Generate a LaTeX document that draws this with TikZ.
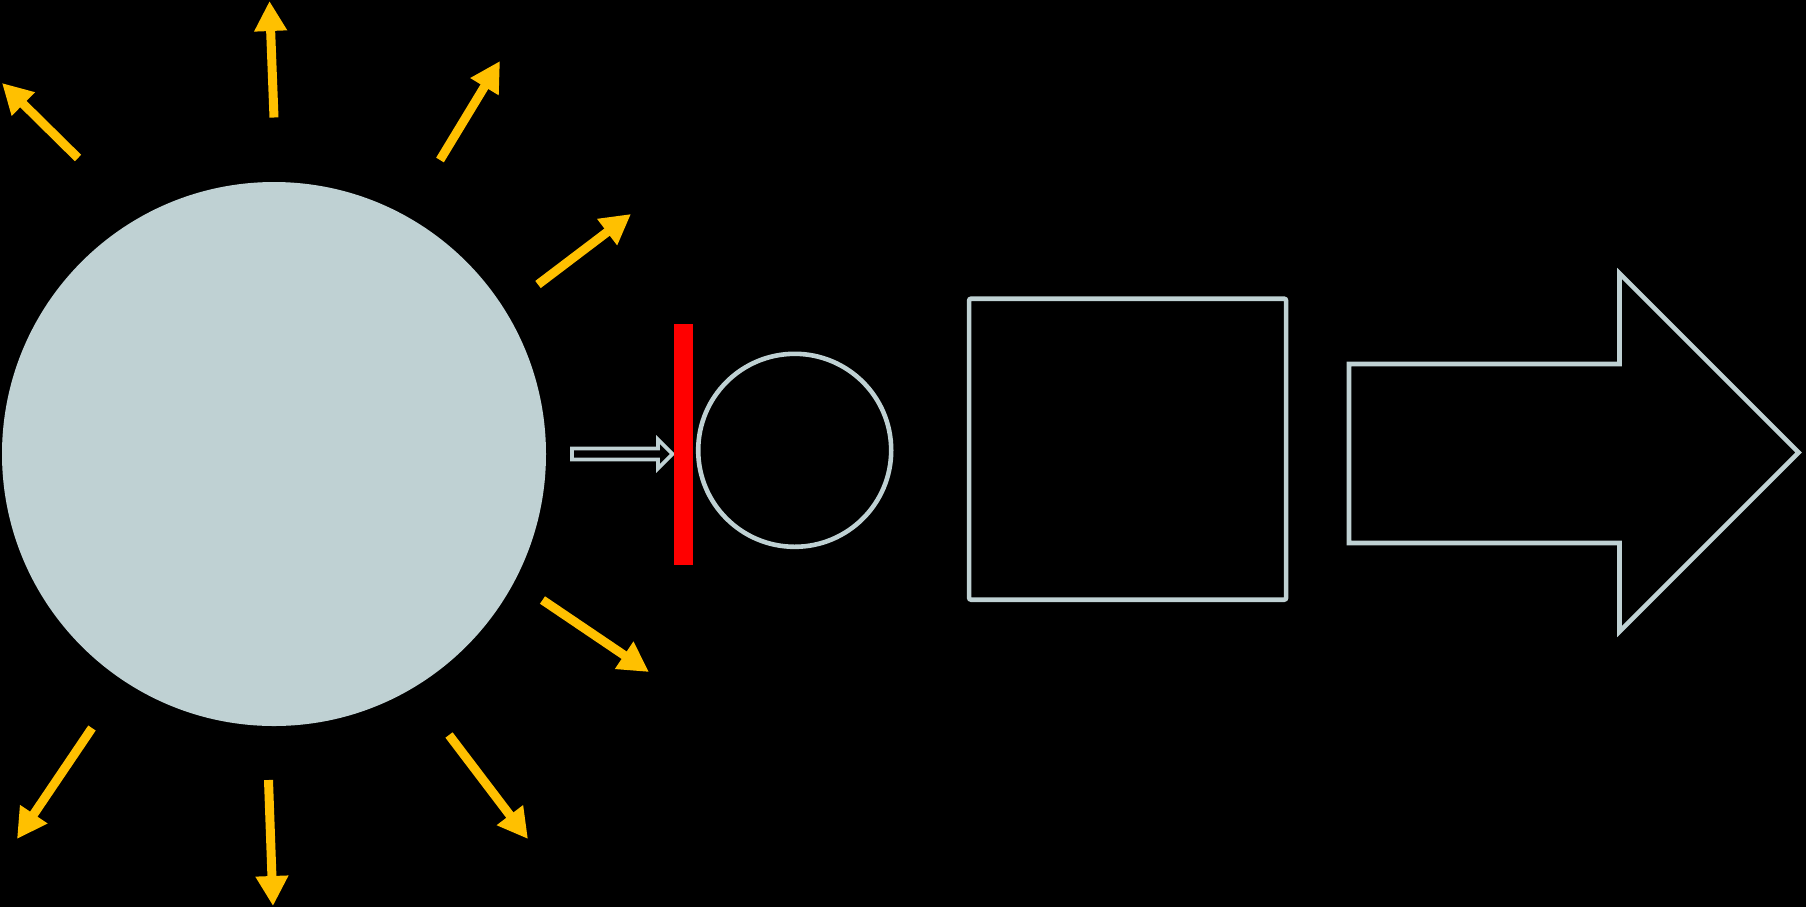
\documentclass[tikz,border=0pt]{standalone}
\usetikzlibrary{arrows.meta}
\definecolor{sunfill}{RGB}{191,209,211}
\definecolor{outl}{RGB}{191,209,211}
\definecolor{ray}{RGB}{255,192,0}
\definecolor{barred}{RGB}{255,0,0}
\tikzset{
  raystyle/.style={draw=ray, line width=4.5pt, -{Triangle[width=15.5pt,length=15pt]}},
  outline/.style={draw=outl, line width=2.3pt},
}
\begin{document}
\begin{tikzpicture}[x=0.5pt,y=-0.5pt]
\fill[black] (0,0) rectangle (1806,907);
\useasboundingbox (0,0) rectangle (1806,907);
% sun
\node[circle, fill=sunfill, inner sep=0pt, minimum size=272pt] (sun) at (274,454) {};
% ray coordinates
\coordinate (t1) at (78,158);   \coordinate (h1) at (2,83);
\coordinate (t2) at (274,117.5);\coordinate (h2) at (269.5,1);
\coordinate (t3) at (440,160);  \coordinate (h3) at (500,61);
\coordinate (t4) at (538,284.5);\coordinate (h4) at (631,214);
\coordinate (t5) at (542.5,600);\coordinate (h5) at (649,672);
\coordinate (t6) at (449,735);  \coordinate (h6) at (528,839);
\coordinate (t7) at (268.5,780);\coordinate (h7) at (273,906);
\coordinate (t8) at (92,728);   \coordinate (h8) at (17,839);
\foreach \i in {1,...,8}{\draw[raystyle] (t\i) -- (h\i);}
% small block arrow
\draw[draw=outl, line width=1.8pt, miter limit=10]
  (572,448.5) -- (658,448.5) -- (658,439.5) -- (672.5,454) -- (658,468.5) -- (658,459.5) -- (572,459.5) -- cycle;
% red bar
\node[fill=barred, inner sep=0pt, minimum width=9.8pt, minimum height=120.5pt] (bar) at (683.6,444) {};
% small circle
\node[circle, outline, inner sep=0pt, minimum size=96.5pt] (cell) at (794.7,450.3) {};
% rectangle
\node[rectangle, outline, rounded corners=1pt, inner sep=0pt, minimum width=158.5pt, minimum height=150.5pt] (box) at (1127.6,449.2) {};
% big arrow
\draw[outline, miter limit=10]
  (1349,364) -- (1619.5,364) -- (1619.5,273.5) -- (1798.5,452.5) -- (1619.5,631.5) -- (1619.5,543) -- (1349,543) -- cycle;
\end{tikzpicture}
\end{document}
